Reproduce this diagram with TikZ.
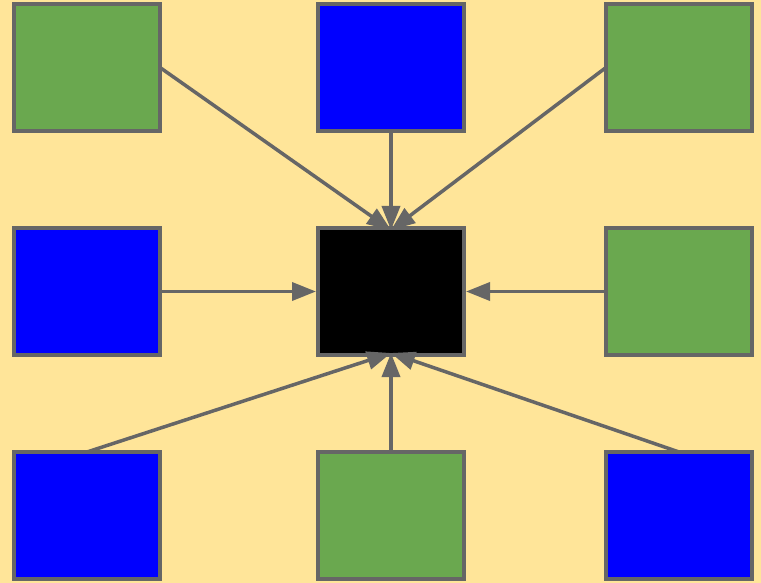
\documentclass[tikz,border=0pt]{standalone}
\usetikzlibrary{arrows.meta}
\definecolor{bg}{HTML}{FFE599}
\definecolor{gr}{HTML}{6AA84F}
\definecolor{bl}{HTML}{0000FF}
\definecolor{edge}{HTML}{666666}
\begin{document}
\begin{tikzpicture}[x=1pt,y=-1pt,
  box/.style={draw=edge,line width=4pt,minimum width=146pt,minimum height=127pt,inner sep=0pt,outer sep=0pt,rectangle},
  gbox/.style={box,fill=gr},
  bbox/.style={box,fill=bl},
  conn/.style={draw=edge,line width=3.5pt,-{Triangle[length=24pt,width=18pt]}}]
\fill[bg] (0,0) rectangle (761,583);
\useasboundingbox (0,0) rectangle (761,583);
\node[gbox] (tl) at (87,67.5) {};
\node[bbox] (tm) at (391,67.5) {};
\node[gbox] (tr) at (679,67.5) {};
\node[bbox] (ml) at (87,291.5) {};
\node[box,fill=black] (c) at (391,291.5) {};
\node[gbox] (mr) at (679,291.5) {};
\node[bbox] (bl) at (87,515.5) {};
\node[gbox] (bm) at (391,515.5) {};
\node[bbox] (br) at (679,515.5) {};
\draw[conn] (tl.east) -- ([yshift=-2pt]c.north);
\draw[conn] (tm.south) -- ([yshift=-2pt]c.north);
\draw[conn] (tr.west) -- ([yshift=-2pt]c.north);
\draw[conn] (ml.east) -- ([xshift=-2pt]c.west);
\draw[conn] (mr.west) -- ([xshift=2pt]c.east);
\draw[conn] (bl.north) -- ([yshift=2pt]c.south);
\draw[conn] (bm.north) -- ([yshift=2pt]c.south);
\draw[conn] (br.north) -- ([yshift=2pt]c.south);
\end{tikzpicture}
\end{document}
